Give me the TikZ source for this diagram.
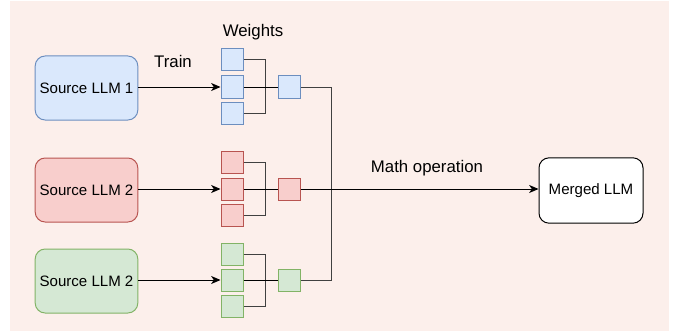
\documentclass[tikz,border=0pt]{standalone}
\usepackage{fontspec}
\setmainfont{Liberation Sans}
\usetikzlibrary{arrows.meta}
\definecolor{bgc}{HTML}{FCEFEB}
\definecolor{bfill}{HTML}{DAE8FC}\definecolor{bline}{HTML}{6C8EBF}
\definecolor{rfill}{HTML}{F8CECC}\definecolor{rline}{HTML}{B85450}
\definecolor{gfill}{HTML}{D5E8D4}\definecolor{gline}{HTML}{82B366}
\tikzset{
  srcbox/.style={draw=#1line, fill=#1fill, rounded corners=7.5pt, line width=0.75pt,
    minimum width=77pt, minimum height=48pt, inner sep=0pt, font=\fontsize{11.3}{13}\selectfont},
  wsq/.style={draw=#1line, fill=#1fill, line width=0.75pt, minimum width=16.5pt, minimum height=16.5pt, inner sep=0pt},
  lbl/.style={font=\fontsize{12.6}{15}\selectfont, inner sep=0pt},
  conn/.style={line width=0.75pt, black},
  brk/.style={line width=0.75pt, black!75},
  arr/.style={conn, -{Stealth[length=7pt,width=6pt,inset=2pt]}},
}
\begin{document}
\begin{tikzpicture}[x=0.75pt,y=-0.75pt]
\useasboundingbox (0,0) rectangle (681,335);
\fill[bgc] (10,1) rectangle (669,331);
% source boxes
\node[srcbox=b] (s1) at (86.5,88) {Source LLM 1};
\node[srcbox=r] (s2) at (86.5,190) {Source LLM 2};
\node[srcbox=g] (s3) at (86.5,281) {Source LLM 2};
% weight squares
\node[wsq=b] (b1) at (232,60) {};
\node[wsq=b] (b2) at (232,87) {};
\node[wsq=b] (b3) at (232,113) {};
\node[wsq=b] (bm) at (289,87) {};
\node[wsq=r] (r1) at (232,162) {};
\node[wsq=r] (r2) at (232,189) {};
\node[wsq=r] (r3) at (232,215) {};
\node[wsq=r] (rm) at (289,189) {};
\node[wsq=g] (g1) at (232,254) {};
\node[wsq=g] (g2) at (232,280) {};
\node[wsq=g] (g3) at (232,306) {};
\node[wsq=g] (gm) at (289,280) {};
% merged
\node[draw, fill=white, rounded corners=7.5pt, line width=0.75pt, minimum width=78pt, minimum height=49pt,
  inner sep=0pt, font=\fontsize{11.3}{13}\selectfont] (m) at (591,190.5) {Merged LLM};
% labels
\node[lbl] (wl) at (253,32) {Weights};
\node[lbl] (tl) at (173,61) {Train};
\node[lbl] (ml) at (427,168) {Math operation};
% train arrows
\draw[arr] (s1.east |- b2.west) -- (b2.west);
\draw[arr] (s2.east |- r2.west) -- (r2.west);
\draw[arr] (s3.east |- g2.west) -- (g2.west);
% brackets
\foreach \t/\bt/\mi/\mo in {b1/b3/b2/bm, r1/r3/r2/rm, g1/g3/g2/gm}{
  \draw[brk] (\t.east) -- ++(22,0) |- (\bt.east);
  \draw[conn] (\mi.east) -- (\mo.west);
}
% merge lines
\coordinate (vt) at (331,87);
\coordinate (vb) at (331,280);
\draw[brk] (bm.east) -- (vt) -- (vb) -- (gm.east);
\draw[arr] (rm.east) -- (m.west |- rm.east);
\end{tikzpicture}
\end{document}
